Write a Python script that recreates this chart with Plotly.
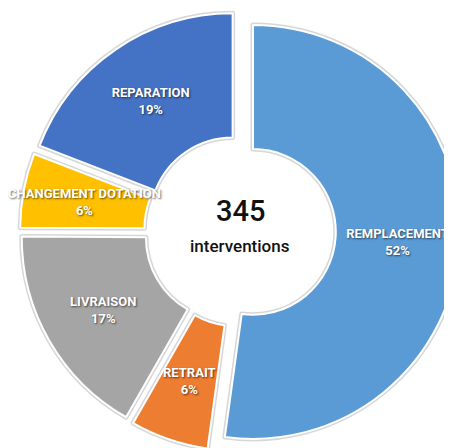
import math
import plotly.graph_objects as go

# ---- data ----
categories = ["REMPLACEMENT", "RETRAIT", "LIVRAISON", "CHANGEMENT DOTATION", "REPARATION"]
counts = [180, 21, 58, 20, 66]
colors = ["#5B9BD5", "#ED7D31", "#A5A5A5", "#FFC000", "#4472C4"]
center_number = "345"
center_caption = "interventions"

# ---- layout constants (figure pixels; page adds an 8px body margin) ----
W, H = 460, 448
PULL = 0.063
HOLE = 0.40
dom_x = [12 / W, 452 / W]
dom_y = [(H - 443) / H, (H - 3) / H]
cx_paper = (dom_x[0] + dom_x[1]) / 2
label_font = "Roboto, Liberation Sans, Arial, sans-serif"
label_size = 13
text_shadow = "1px 1px 2px rgba(0,0,0,0.6)"

pulls = [PULL] * len(categories)
total = sum(counts)

# slices too thin for the library's auto text placement get their label
# placed at the middle of the ring instead (computed from the data)
thin = [c / total < 0.1 for c in counts]
templates = ["" if t else "%{label}<br>%{percent:.0%}" for t in thin]

fig = go.Figure()

# soft shadow ring behind slices
fig.add_trace(go.Pie(
    labels=categories, values=counts, sort=False, direction="clockwise", rotation=0,
    hole=HOLE, pull=pulls, domain=dict(x=dom_x, y=dom_y),
    marker=dict(colors=colors, line=dict(color="rgba(0,0,0,0.16)", width=5)),
    textinfo="none", hoverinfo="skip", showlegend=False,
))

# main slices
fig.add_trace(go.Pie(
    labels=categories, values=counts, sort=False, direction="clockwise", rotation=0,
    hole=HOLE, pull=pulls, domain=dict(x=dom_x, y=dom_y),
    marker=dict(colors=colors, line=dict(color="white", width=2)),
    texttemplate=templates,
    textposition="inside", insidetextorientation="horizontal",
    insidetextfont=dict(family=label_font, size=label_size, color="white", weight="bold",
                        shadow=text_shadow),
    showlegend=False,
))

# geometry of the pie as the library lays it out
box_w = W * (dom_x[1] - dom_x[0])
box_h = H * (dom_y[1] - dom_y[0])
r_px = min(box_w, box_h) / 2 / (1 + PULL)
cx_px = W * cx_paper
cy_px = H * (1 - (dom_y[0] + dom_y[1]) / 2)

cum = 0
for cat, c, is_thin in zip(categories, counts, thin):
    mid = (cum + c / 2) / total * 2 * math.pi
    cum += c
    if not is_thin:
        continue
    rr = (PULL + (1 + HOLE) / 2) * r_px
    x_px = cx_px + rr * math.sin(mid)
    y_px = cy_px - rr * math.cos(mid)
    pct = round(100 * c / total)
    fig.add_annotation(x=x_px / W, y=1 - y_px / H, xref="paper", yref="paper",
                       xanchor="center", yanchor="middle",
                       text=f"{cat}<br>{pct}%", showarrow=False,
                       font=dict(family=label_font, size=label_size, color="white",
                                 weight="bold", shadow=text_shadow))

fig.add_annotation(x=cx_paper, y=(H - 203) / H, xref="paper", yref="paper",
                   xanchor="center", yanchor="middle",
                   text=center_number, showarrow=False,
                   font=dict(family=label_font, size=29, color="#111111", weight=500))
fig.add_annotation(x=cx_paper, y=(H - 238) / H, xref="paper", yref="paper",
                   xanchor="center", yanchor="middle",
                   text=center_caption, showarrow=False,
                   font=dict(family=label_font, size=17, color="#111111", weight=500))

fig.update_layout(
    width=W, height=H,
    margin=dict(l=0, r=0, t=0, b=0),
    paper_bgcolor="white", plot_bgcolor="white",
    uniformtext=dict(minsize=label_size, mode="show"),
)

fig.write_html("out.html")
